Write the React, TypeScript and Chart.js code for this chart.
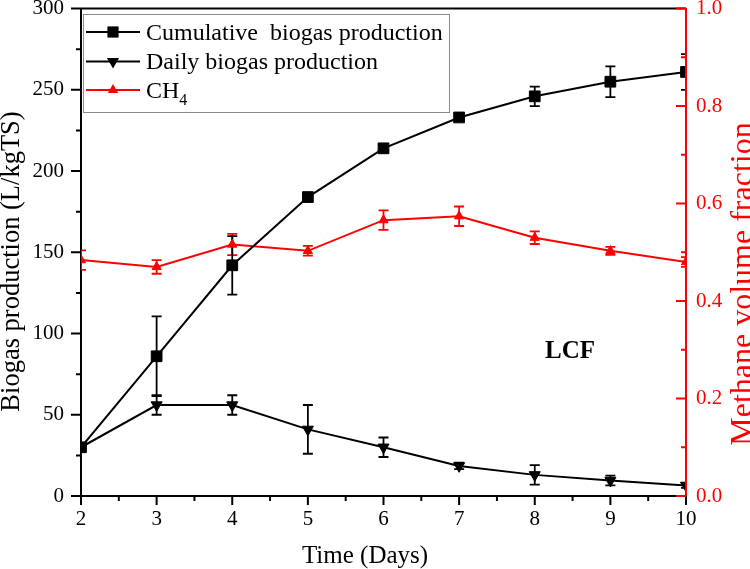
import React, { useEffect, useRef } from "react";
import { Chart, registerables } from "chart.js";

Chart.register(...registerables);

const FONT = '"Liberation Serif", "Times New Roman", serif';
const RED = "#ff0000";
const BLACK = "#000000";

const days = [2, 3, 4, 5, 6, 7, 8, 9, 10];
const cumulative = [30, 86, 142, 184, 214, 233, 246, 255, 261];
const cumulativeErr = [1, 24.5, 18, 2, 2, 2, 6, 9.5, 11];
const daily = [30, 56, 56, 41, 30, 18.5, 13, 9.5, 6.5];
const dailyErr = [1, 6, 6, 15, 6, 2, 6, 3, 1.5];
const ch4 = [0.484, 0.47, 0.516, 0.503, 0.566, 0.574, 0.53, 0.503, 0.48];
const ch4Err = [0.02, 0.014, 0.022, 0.01, 0.02, 0.02, 0.013, 0.008, 0.01];

const leftMajor = [0, 50, 100, 150, 200, 250, 300];
const leftMinor = [25, 75, 125, 175, 225, 275];
const rightMajor = [0, 0.2, 0.4, 0.6, 0.8, 1.0];
const rightMinor = [0.1, 0.3, 0.5, 0.7, 0.9];
const xMajor = [2, 3, 4, 5, 6, 7, 8, 9, 10];
const xMinor = [2.5, 3.5, 4.5, 5.5, 6.5, 7.5, 8.5, 9.5];

const seriesLabels = ["Cumulative  biogas production", "Daily biogas production", "CH"];
const xTitle = "Time (Days)";
const yTitle = "Biogas production (L/kgTS)";
const y1Title = "Methane volume fraction";
const annotation = "LCF";

function drawErrors(ctx: CanvasRenderingContext2D, xs: any, ys: any, vals: number[], errs: number[], color: string) {
  ctx.strokeStyle = color;
  ctx.lineWidth = 1.8;
  days.forEach((d, i) => {
    const x = xs.getPixelForValue(d);
    const y1 = ys.getPixelForValue(vals[i] + errs[i]);
    const y2 = ys.getPixelForValue(vals[i] - errs[i]);
    ctx.beginPath();
    ctx.moveTo(x, y1);
    ctx.lineTo(x, y2);
    ctx.moveTo(x - 5, y1);
    ctx.lineTo(x + 5, y1);
    ctx.moveTo(x - 5, y2);
    ctx.lineTo(x + 5, y2);
    ctx.stroke();
  });
}

function marker(ctx: CanvasRenderingContext2D, kind: string, x: number, y: number, r: number, color: string) {
  ctx.fillStyle = color;
  ctx.beginPath();
  if (kind === "rect") {
    ctx.rect(x - r, y - r, 2 * r, 2 * r);
  } else if (kind === "down") {
    ctx.moveTo(x - r * 0.866, y - r * 0.5);
    ctx.lineTo(x + r * 0.866, y - r * 0.5);
    ctx.lineTo(x, y + r);
  } else {
    ctx.moveTo(x - r * 0.866, y + r * 0.5);
    ctx.lineTo(x + r * 0.866, y + r * 0.5);
    ctx.lineTo(x, y - r);
  }
  ctx.closePath();
  ctx.fill();
}

const decorPlugin = {
  id: "decor",
  beforeDatasetsDraw(chart: any) {
    const ctx = chart.ctx as CanvasRenderingContext2D;
    const a = chart.chartArea;
    const xs = chart.scales.x;
    ctx.save();
    ctx.beginPath();
    ctx.rect(a.left, a.top - 2, a.right - a.left, a.bottom - a.top + 4);
    ctx.clip();
    drawErrors(ctx, xs, chart.scales.y1, ch4, ch4Err, RED);
    drawErrors(ctx, xs, chart.scales.y, daily, dailyErr, BLACK);
    drawErrors(ctx, xs, chart.scales.y, cumulative, cumulativeErr, BLACK);
    ctx.restore();
  },
  afterDraw(chart: any) {
    const ctx = chart.ctx as CanvasRenderingContext2D;
    const a = chart.chartArea;
    const xs = chart.scales.x;
    const ys = chart.scales.y;
    const y1 = chart.scales.y1;
    ctx.save();
    // top frame line
    ctx.strokeStyle = BLACK;
    ctx.lineWidth = 2;
    ctx.beginPath();
    ctx.moveTo(a.left, a.top);
    ctx.lineTo(a.right, a.top);
    ctx.stroke();

    // x ticks (outward)
    ctx.beginPath();
    xMajor.forEach((v) => {
      const x = xs.getPixelForValue(v);
      ctx.moveTo(x, a.bottom);
      ctx.lineTo(x, a.bottom + 9);
    });
    xMinor.forEach((v) => {
      const x = xs.getPixelForValue(v);
      ctx.moveTo(x, a.bottom);
      ctx.lineTo(x, a.bottom + 5);
    });
    // left ticks (outward)
    leftMajor.forEach((v) => {
      const y = ys.getPixelForValue(v);
      ctx.moveTo(a.left, y);
      ctx.lineTo(a.left - 10, y);
    });
    leftMinor.forEach((v) => {
      const y = ys.getPixelForValue(v);
      ctx.moveTo(a.left, y);
      ctx.lineTo(a.left - 5, y);
    });
    ctx.stroke();

    // right ticks (inward, red)
    ctx.strokeStyle = RED;
    ctx.beginPath();
    rightMajor.forEach((v) => {
      const y = y1.getPixelForValue(v);
      ctx.moveTo(a.right, y);
      ctx.lineTo(a.right - 10, y);
    });
    rightMinor.forEach((v) => {
      const y = y1.getPixelForValue(v);
      ctx.moveTo(a.right, y);
      ctx.lineTo(a.right - 5, y);
    });
    ctx.stroke();
    ctx.beginPath();
    ctx.moveTo(a.right, a.top);
    ctx.lineTo(a.right, a.bottom);
    ctx.stroke();

    // axis titles
    ctx.fillStyle = BLACK;
    ctx.textAlign = "center";
    ctx.textBaseline = "alphabetic";
    ctx.font = `25px ${FONT}`;
    ctx.fillText(xTitle, 365, 563);

    ctx.save();
    ctx.translate(18.5, 261.5);
    ctx.rotate(-Math.PI / 2);
    ctx.font = `26.5px ${FONT}`;
    ctx.fillText(yTitle, 0, 0);
    ctx.restore();

    ctx.save();
    ctx.translate(752, 284);
    ctx.rotate(-Math.PI / 2);
    ctx.fillStyle = RED;
    ctx.font = `32px ${FONT}`;
    ctx.fillText(y1Title, 0, 0);
    ctx.restore();

    // annotation
    ctx.font = `bold 25px ${FONT}`;
    ctx.fillStyle = BLACK;
    ctx.fillText(annotation, 570, 358);

    // legend
    ctx.fillStyle = "#ffffff";
    ctx.fillRect(83, 14, 366, 98);
    ctx.strokeStyle = "#8a8a8a";
    ctx.lineWidth = 1;
    ctx.strokeRect(83.5, 14.5, 366, 98);

    const rows = [
      { y: 32, color: BLACK, kind: "rect", r: 5.6, base: 40 },
      { y: 61.5, color: BLACK, kind: "down", r: 7, base: 69 },
      { y: 90, color: RED, kind: "up", r: 6, base: 97.5 },
    ];
    rows.forEach((row, i) => {
      ctx.strokeStyle = row.color;
      ctx.lineWidth = 2;
      ctx.beginPath();
      ctx.moveTo(86, row.y);
      ctx.lineTo(140, row.y);
      ctx.stroke();
      marker(ctx, row.kind, 113, row.y, row.r, row.color);
      ctx.fillStyle = BLACK;
      ctx.textAlign = "left";
      ctx.font = `24px ${FONT}`;
      ctx.fillText(seriesLabels[i], 146, row.base);
      if (i === 2) {
        const w = ctx.measureText(seriesLabels[i]).width;
        ctx.font = `16px ${FONT}`;
        ctx.fillText("4", 146 + w, row.base + 7);
      }
    });
    ctx.restore();
  },
};

export default function App() {
  const ref = useRef<HTMLCanvasElement | null>(null);
  useEffect(() => {
    if (!ref.current) return;
    const chart = new Chart(ref.current, {
      type: "line",
      data: {
        datasets: [
          {
            label: seriesLabels[0],
            data: days.map((d, i) => ({ x: d, y: cumulative[i] })),
            yAxisID: "y",
            borderColor: BLACK,
            backgroundColor: BLACK,
            borderWidth: 2,
            pointStyle: "rect",
            pointRadius: 7.6,
            pointBorderWidth: 1,
            pointBackgroundColor: BLACK,
            pointBorderColor: BLACK,
          },
          {
            label: seriesLabels[1],
            data: days.map((d, i) => ({ x: d, y: daily[i] })),
            yAxisID: "y",
            borderColor: BLACK,
            backgroundColor: BLACK,
            borderWidth: 2,
            pointStyle: "triangle",
            pointRotation: 180,
            pointRadius: 6.4,
            pointBorderWidth: 1,
            pointBackgroundColor: BLACK,
            pointBorderColor: BLACK,
          },
          {
            label: "CH4",
            data: days.map((d, i) => ({ x: d, y: ch4[i] })),
            yAxisID: "y1",
            borderColor: RED,
            backgroundColor: RED,
            borderWidth: 2,
            pointStyle: "triangle",
            pointRadius: 5.3,
            pointBorderWidth: 1,
            pointBackgroundColor: RED,
            pointBorderColor: RED,
          },
        ],
      },
      options: {
        responsive: false,
        animation: false,
        events: [],
        layout: { padding: { top: 8, left: 0, right: 0, bottom: 0 } },
        plugins: { legend: { display: false }, tooltip: { enabled: false }, title: { display: false } },
        scales: {
          x: {
            type: "linear",
            position: "bottom",
            min: 2,
            max: 10,
            ticks: {
              stepSize: 1,
              color: BLACK,
              font: { family: FONT, size: 21 },
              padding: 11,
              maxRotation: 0,
              autoSkip: false,
            },
            grid: { display: false, drawTicks: false },
            border: { display: true, color: BLACK, width: 2 },
            afterFit: (s: any) => {
              s.height = 73;
              s.paddingLeft = 0;
              s.paddingRight = 0;
            },
          },
          y: {
            type: "linear",
            position: "left",
            min: 0,
            max: 300,
            ticks: {
              stepSize: 50,
              color: BLACK,
              font: { family: FONT, size: 21 },
              padding: 17,
            },
            grid: { display: false, drawTicks: false },
            border: { display: true, color: BLACK, width: 2 },
            afterFit: (s: any) => {
              s.width = 81;
              s.paddingTop = 0;
              s.paddingBottom = 0;
            },
          },
          y1: {
            type: "linear",
            position: "right",
            min: 0,
            max: 1,
            ticks: {
              stepSize: 0.2,
              color: RED,
              font: { family: FONT, size: 21 },
              padding: 10,
              callback: (v: any) => Number(v).toFixed(1),
            },
            grid: { display: false, drawTicks: false },
            border: { display: true, color: RED, width: 2 },
            afterFit: (s: any) => {
              s.width = 64;
              s.paddingTop = 0;
              s.paddingBottom = 0;
            },
          },
        },
      },
      plugins: [decorPlugin],
    } as any);
    return () => chart.destroy();
  }, []);
  return (
    <div style={{ position: "absolute", left: 0, top: 0, width: 750, height: 569, background: "#fff" }}>
      <canvas ref={ref} width={750} height={569} style={{ display: "block", width: 750, height: 569 }} />
    </div>
  );
}
